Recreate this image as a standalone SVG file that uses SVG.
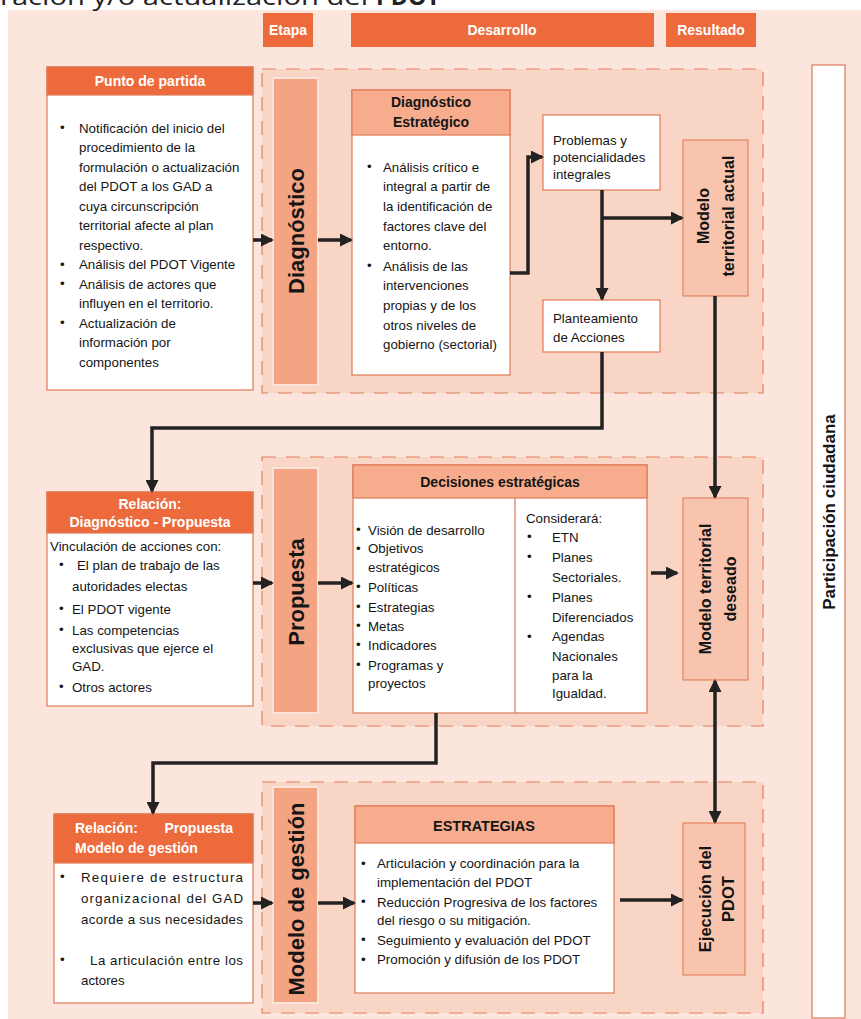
<svg xmlns="http://www.w3.org/2000/svg" width="861" height="1019" viewBox="0 0 861 1019">
<defs>
<marker id="ah" markerUnits="userSpaceOnUse" markerWidth="13" markerHeight="13" refX="11" refY="6.5" orient="auto-start-reverse">
<path d="M0,0 L13,6.5 L0,13 z" fill="#222"/>
</marker>
<style>
.t{font-family:"Liberation Sans",Arial,sans-serif;font-size:13.3px;fill:#151515}
.b{font-family:"Liberation Sans",Arial,sans-serif;font-weight:bold;fill:#151515}
.w{font-family:"Liberation Sans",Arial,sans-serif;font-weight:bold;fill:#fff;font-size:14px}
.tab{fill:#ec6a3c}
.grp{fill:#f9d5c6;stroke:#e4805c;stroke-width:1.2;stroke-dasharray:14 10}
.etapa{fill:#f4a383;stroke:#fce3d9;stroke-width:2}
.box{fill:#fff;stroke:#e07a55;stroke-width:1.2}
.hdr{fill:#ec6a3c;stroke:#e07a55;stroke-width:1.2}
.sh{fill:#f6ac8d;stroke:#e07a55;stroke-width:1.2}
.res{fill:#f8c4ae;stroke:#e7845f;stroke-width:1.2}
.c{fill:none;stroke:#222;stroke-width:3.5}
</style>
</defs>
<rect x="0" y="0" width="861" height="1019" fill="#fff"/>
<rect x="8" y="10" width="853" height="1009" fill="#fce5dc"/>
<text x="0" y="5" font-family="Open Sans, Liberation Sans, sans-serif" font-size="24" fill="#222" textLength="368" lengthAdjust="spacingAndGlyphs">ración y/o actualización del</text>
<text x="376" y="5" font-family="Open Sans, Liberation Sans, sans-serif" font-size="24" font-weight="bold" fill="#222" textLength="64" lengthAdjust="spacingAndGlyphs">PDOT</text>

<g id="tabs">
<rect class="tab" x="263" y="13" width="50" height="34"/>
<text class="w" x="288" y="35" text-anchor="middle" font-size="13">Etapa</text>
<rect class="tab" x="351" y="13" width="303" height="34"/>
<text class="w" x="502" y="35" text-anchor="middle" font-size="13">Desarrollo</text>
<rect class="tab" x="666" y="13" width="90" height="34"/>
<text class="w" x="711" y="35" text-anchor="middle" font-size="13">Resultado</text>
</g>

<g id="grp-diag"><rect class="grp" x="262" y="69" width="501" height="324"/></g>
<g id="grp-prop"><rect class="grp" x="262" y="457" width="501" height="269"/></g>
<g id="grp-gest"><rect class="grp" x="262" y="782" width="501" height="231"/></g>

<g id="participacion">
<rect x="812" y="65" width="33" height="953" fill="#fff" stroke="#d9785a" stroke-width="1.2"/>
<text class="b" font-size="17" transform="translate(829,512) rotate(-90)" x="0" y="6" text-anchor="middle">Participación  ciudadana</text>
</g>

<g id="punto-partida">
<rect class="box" x="47" y="67" width="206" height="323"/>
<rect class="hdr" x="47" y="67" width="206" height="28"/>
<text class="w" x="150" y="86" text-anchor="middle">Punto de partida</text>
<text class="t" font-size="10" x="60" y="132">•</text>
<text class="t" x="79" y="132.5">Notificación del inicio del</text>
<text class="t" x="79" y="152">procedimiento de la</text>
<text class="t" x="79" y="171.5">formulación o actualización</text>
<text class="t" x="79" y="191">del PDOT a los GAD a</text>
<text class="t" x="79" y="210.5">cuya circunscripción</text>
<text class="t" x="79" y="230">territorial afecte al plan</text>
<text class="t" x="79" y="249.5">respectivo.</text>
<text class="t" font-size="10" x="60" y="268.5">•</text>
<text class="t" x="79" y="269">Análisis del PDOT Vigente</text>
<text class="t" font-size="10" x="60" y="288">•</text>
<text class="t" x="79" y="288.5">Análisis de actores que</text>
<text class="t" x="79" y="308">influyen en el territorio.</text>
<text class="t" font-size="10" x="60" y="327">•</text>
<text class="t" x="79" y="327.5">Actualización de</text>
<text class="t" x="79" y="347">información por</text>
<text class="t" x="79" y="366.5">componentes</text>
</g>

<g id="etapa-diagnostico">
<rect class="etapa" x="273" y="78" width="45" height="307"/>
<text class="b" font-size="22" transform="translate(296,231) rotate(-90)" x="0" y="8" text-anchor="middle">Diagnóstico</text>
</g>

<g id="diag-estrategico">
<rect class="box" x="352" y="90" width="158" height="285"/>
<rect class="sh" x="352" y="90" width="158" height="45"/>
<text class="b" font-size="14" x="431" y="107" text-anchor="middle">Diagnóstico</text>
<text class="b" font-size="14" x="431" y="127" text-anchor="middle">Estratégico</text>
<text class="t" font-size="10" x="367" y="171">•</text>
<text class="t" x="383" y="171.5">Análisis crítico e</text>
<text class="t" x="383" y="191.2">integral a partir de</text>
<text class="t" x="383" y="210.9">la identificación de</text>
<text class="t" x="383" y="230.6">factores clave del</text>
<text class="t" x="383" y="250.3">entorno.</text>
<text class="t" font-size="10" x="367" y="270">•</text>
<text class="t" x="383" y="270.5">Análisis de las</text>
<text class="t" x="383" y="290.2">intervenciones</text>
<text class="t" x="383" y="309.9">propias y de los</text>
<text class="t" x="383" y="329.6">otros niveles de</text>
<text class="t" x="383" y="349.3">gobierno (sectorial)</text>
</g>

<g id="problemas">
<rect class="box" x="543" y="115" width="117" height="75"/>
<text class="t" x="553" y="144.5">Problemas y</text>
<text class="t" x="553" y="161.5">potencialidades</text>
<text class="t" x="553" y="178.5">integrales</text>
</g>

<g id="planteamiento">
<rect class="box" x="543" y="300" width="117" height="52"/>
<text class="t" x="553" y="322.5">Planteamiento</text>
<text class="t" x="553" y="341.5">de Acciones</text>
</g>

<g id="mt-actual">
<rect class="res" x="683" y="140" width="65" height="156"/>
<text class="b" font-size="16" transform="translate(703,216) rotate(-90)" x="0" y="6" text-anchor="middle">Modelo</text>
<text class="b" font-size="16" transform="translate(728,216) rotate(-90)" x="0" y="6" text-anchor="middle">territorial  actual</text>
</g>

<g id="rel-diag-prop">
<rect class="box" x="47" y="492" width="206" height="214"/>
<rect class="hdr" x="47" y="492" width="206" height="41"/>
<text class="w" x="150" y="509" text-anchor="middle">Relación:</text>
<text class="w" x="150" y="527" text-anchor="middle">Diagnóstico - Propuesta</text>
<text class="t" x="50" y="551">Vinculación de acciones con:</text>
<text class="t" font-size="10" x="59" y="569">•</text>
<text class="t" x="77" y="569.5">El plan de trabajo de las</text>
<text class="t" x="72" y="591">autoridades electas</text>
<text class="t" font-size="10" x="59" y="613">•</text>
<text class="t" x="72" y="613.5">El PDOT vigente</text>
<text class="t" font-size="10" x="59" y="634">•</text>
<text class="t" x="72" y="634.5">Las competencias</text>
<text class="t" x="72" y="653">exclusivas que ejerce el</text>
<text class="t" x="72" y="671">GAD.</text>
<text class="t" font-size="10" x="59" y="691">•</text>
<text class="t" x="72" y="691.5">Otros actores</text>
</g>

<g id="etapa-propuesta">
<rect class="etapa" x="273" y="468" width="45" height="245"/>
<text class="b" font-size="22" transform="translate(296,592) rotate(-90)" x="0" y="8" text-anchor="middle">Propuesta</text>
</g>

<g id="decisiones">
<rect class="box" x="353" y="465" width="294" height="248"/>
<rect class="sh" x="353" y="465" width="294" height="33"/>
<text class="b" font-size="14" x="500" y="487" text-anchor="middle">Decisiones  estratégicas</text>
<line x1="515" y1="498" x2="515" y2="713" stroke="#e07a55" stroke-width="1.2"/>
<text class="t" font-size="10" x="356" y="534">•</text>
<text class="t" x="368" y="534.5">Visión de  desarrollo</text>
<text class="t" font-size="10" x="356" y="552.5">•</text>
<text class="t" x="368" y="553">Objetivos</text>
<text class="t" x="368" y="571.5">estratégicos</text>
<text class="t" font-size="10" x="356" y="591">•</text>
<text class="t" x="368" y="591.5">Políticas</text>
<text class="t" font-size="10" x="356" y="611">•</text>
<text class="t" x="368" y="611.5">Estrategias</text>
<text class="t" font-size="10" x="356" y="630">•</text>
<text class="t" x="368" y="630.5">Metas</text>
<text class="t" font-size="10" x="356" y="649">•</text>
<text class="t" x="368" y="649.5">Indicadores</text>
<text class="t" font-size="10" x="356" y="669">•</text>
<text class="t" x="368" y="669.5">Programas y</text>
<text class="t" x="368" y="688">proyectos</text>
<text class="t" x="526" y="523">Considerará:</text>
<text class="t" font-size="10" x="527" y="541">•</text>
<text class="t" x="552" y="541.5">ETN</text>
<text class="t" font-size="10" x="527" y="561">•</text>
<text class="t" x="552" y="561.5">Planes</text>
<text class="t" x="552" y="581.5">Sectoriales.</text>
<text class="t" font-size="10" x="527" y="601">•</text>
<text class="t" x="552" y="601.5">Planes</text>
<text class="t" x="552" y="621.5">Diferenciados</text>
<text class="t" font-size="10" x="527" y="641">•</text>
<text class="t" x="552" y="641">Agendas</text>
<text class="t" x="552" y="660.5">Nacionales</text>
<text class="t" x="552" y="679.5">para la</text>
<text class="t" x="552" y="698">Igualdad.</text>
</g>

<g id="mt-deseado">
<rect class="res" x="683" y="498" width="65" height="182"/>
<text class="b" font-size="16" transform="translate(705,589) rotate(-90)" x="0" y="6" text-anchor="middle">Modelo territorial</text>
<text class="b" font-size="16" transform="translate(730,589) rotate(-90)" x="0" y="6" text-anchor="middle">deseado</text>
</g>

<g id="rel-prop-gest">
<rect class="box" x="54" y="814" width="199" height="189"/>
<rect class="hdr" x="54" y="814" width="199" height="49"/>
<text class="w" x="75" y="833">Relación:</text>
<text class="w" x="233" y="833" text-anchor="end">Propuesta</text>
<text class="w" x="75" y="853">Modelo de gestión</text>
<text class="t" font-size="10" x="60" y="881">•</text>
<text class="t" x="81" y="881.5" textLength="162" lengthAdjust="spacing">Requiere de estructura</text>
<text class="t" x="81" y="903" textLength="162" lengthAdjust="spacing">organizacional del GAD</text>
<text class="t" x="81" y="924" textLength="162" lengthAdjust="spacing">acorde a sus necesidades</text>
<text class="t" font-size="10" x="60" y="964">•</text>
<text class="t" x="90" y="964.5" textLength="153" lengthAdjust="spacing">La articulación entre los</text>
<text class="t" x="81" y="985">actores</text>
</g>

<g id="etapa-gestion">
<rect class="etapa" x="273" y="787" width="45" height="216"/>
<text class="b" font-size="22" transform="translate(296,899) rotate(-90)" x="0" y="8" text-anchor="middle">Modelo de gestión</text>
</g>

<g id="estrategias">
<rect class="box" x="355" y="806" width="259" height="187"/>
<rect class="sh" x="355" y="806" width="259" height="37"/>
<text class="b" font-size="14.5" x="484" y="831" text-anchor="middle">ESTRATEGIAS</text>
<text class="t" font-size="10" x="361" y="867.5">•</text>
<text class="t" x="377" y="868">Articulación y coordinación para la</text>
<text class="t" x="377" y="887">implementación del PDOT</text>
<text class="t" font-size="10" x="361" y="906">•</text>
<text class="t" x="377" y="906.5">Reducción Progresiva de los factores</text>
<text class="t" x="377" y="925">del riesgo o su mitigación.</text>
<text class="t" font-size="10" x="361" y="944">•</text>
<text class="t" x="377" y="944.5">Seguimiento y evaluación del PDOT</text>
<text class="t" font-size="10" x="361" y="963.5">•</text>
<text class="t" x="377" y="964">Promoción y difusión de los PDOT</text>
</g>

<g id="ejecucion">
<rect class="res" x="683" y="823" width="62" height="152"/>
<text class="b" font-size="16.5" transform="translate(705,899) rotate(-90)" x="0" y="6" text-anchor="middle">Ejecución  del</text>
<text class="b" font-size="16.5" transform="translate(728,899) rotate(-90)" x="0" y="6" text-anchor="middle">PDOT</text>
</g>

<g id="connectors">
<path class="c" d="M253,240 H272" marker-end="url(#ah)"/>
<path class="c" d="M318,240 H351" marker-end="url(#ah)"/>
<path class="c" d="M510,273 H528 V157 H542" marker-end="url(#ah)"/>
<path class="c" d="M602,190 V299" marker-end="url(#ah)"/>
<path class="c" d="M602,218 H682" marker-end="url(#ah)"/>
<path class="c" d="M602,352 V428 H152 V491" marker-end="url(#ah)"/>
<path class="c" d="M715,296 V497" marker-end="url(#ah)"/>
<path class="c" d="M253,583 H272" marker-end="url(#ah)"/>
<path class="c" d="M318,583 H352" marker-end="url(#ah)"/>
<path class="c" d="M651,573 H677" marker-end="url(#ah)"/>
<path class="c" d="M715,681 V822" marker-start="url(#ah)" marker-end="url(#ah)"/>
<path class="c" d="M436,713 V763 H153 V813" marker-end="url(#ah)"/>
<path class="c" d="M253,903 H272" marker-end="url(#ah)"/>
<path class="c" d="M318,903 H354" marker-end="url(#ah)"/>
<path class="c" d="M620,900 H682" marker-end="url(#ah)"/>
</g>
</svg>
